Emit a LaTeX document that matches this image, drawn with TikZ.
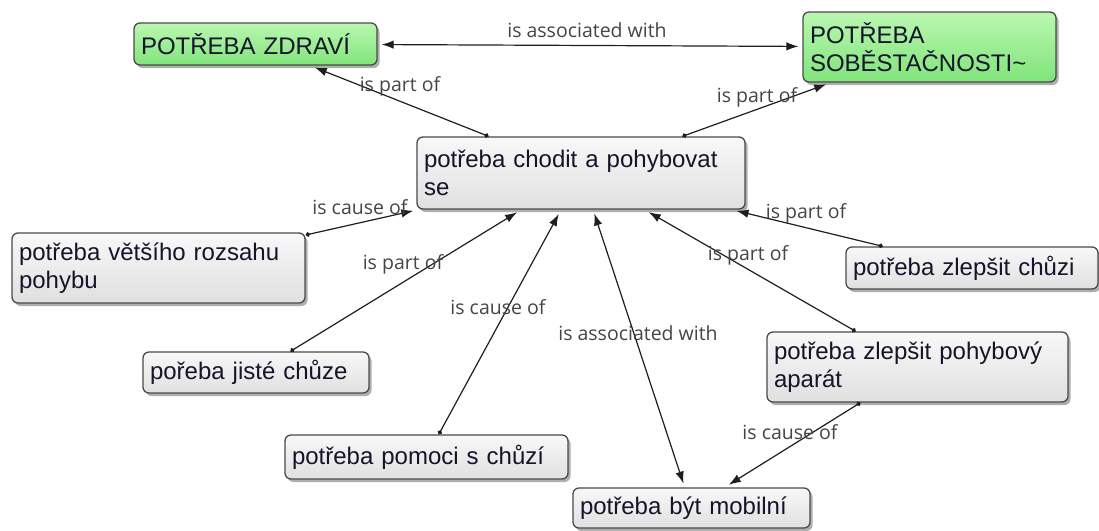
\documentclass[tikz,border=0pt]{standalone}
\usepackage{fontspec}
\setmainfont{Liberation Sans}
\newfontfamily\lblfont{Open Sans}
\usetikzlibrary{arrows.meta,shadows}

\definecolor{boxline}{HTML}{4A4A4A}
\definecolor{boxtop}{HTML}{F8F8F8}
\definecolor{boxbot}{HTML}{E0E0E0}
\definecolor{greentop}{HTML}{BAF7B1}
\definecolor{greenbot}{HTML}{80E47A}
\definecolor{nodetext}{HTML}{14142A}
\definecolor{lbltext}{HTML}{454545}
\definecolor{linecol}{HTML}{1E1E1E}

\tikzset{
  concept/.style={draw=boxline, line width=1.3pt, rounded corners=6pt,
    top color=boxtop, bottom color=boxbot, text=nodetext,
    align=left, inner xsep=7pt, inner ysep=0pt,
    font=\fontsize{24}{28}\selectfont,
    drop shadow={shadow xshift=2.5pt, shadow yshift=-3pt, opacity=0.45, fill=black!70}},
  greenconcept/.style={concept, top color=greentop, bottom color=greenbot},
  lbl/.style={font=\lblfont\fontsize{19.5}{22}\selectfont, text=lbltext, inner sep=0pt},
  rel/.style={draw=linecol, line width=1.2pt,
    {Circle[length=4.5pt]}-{Latex[length=12pt,width=8.5pt]}, shorten >=5pt},
  mutual/.style={draw=linecol, line width=1.2pt,
    {Latex[length=12pt,width=8.5pt]}-{Latex[length=12pt,width=8.5pt]},
    shorten >=4pt, shorten <=4pt},
}

\begin{document}
\begin{tikzpicture}[x=1pt, y=-1pt]
\useasboundingbox (0,0) rectangle (1099,530);

% concepts
\node[greenconcept, minimum width=243pt, minimum height=42pt, text width=229pt]
  (zdravi) at (255.5,44) {\mbox{POTŘEBA ZDRAVÍ}};
\node[greenconcept, minimum width=253pt, minimum height=70pt, text width=239pt]
  (sobest) at (929.5,47) {POTŘEBA\\\mbox{SOBĚSTAČNOSTI\textasciitilde}};
\node[concept, minimum width=328pt, minimum height=72pt, text width=314pt]
  (chodit) at (581,173) {\mbox{potřeba chodit a pohybovat}\\se};
\node[concept, minimum width=293pt, minimum height=70pt, text width=279pt]
  (rozsah) at (158.5,268) {\mbox{potřeba většího rozsahu}\\pohybu};
\node[concept, minimum width=252pt, minimum height=42pt, text width=238pt]
  (zlepchuze) at (972,268) {\mbox{potřeba zlepšit chůzi}};
\node[concept, minimum width=301pt, minimum height=70pt, text width=287pt]
  (aparat) at (917.5,367) {\mbox{potřeba zlepšit pohybový}\\aparát};
\node[concept, minimum width=226pt, minimum height=41pt, text width=212pt]
  (jista) at (256,372.5) {\mbox{pořeba jisté chůze}};
\node[concept, minimum width=283pt, minimum height=44pt, text width=269pt]
  (pomoc) at (426.5,457) {\mbox{potřeba pomoci s chůzí}};
\node[concept, minimum width=237pt, minimum height=40pt, text width=223pt]
  (mobil) at (691.5,508) {\mbox{potřeba být mobilní}};

% relations
\draw[mutual] (zdravi) -- (sobest);
\draw[rel] (chodit) -- (zdravi);
\draw[rel] (chodit) -- (sobest);
\draw[rel] (rozsah) -- (chodit);
\draw[rel] (zlepchuze) -- (chodit);
\draw[rel] (jista) -- (chodit);
\draw[rel] (pomoc) -- (chodit);
\draw[mutual] (mobil) -- (chodit);
\draw[rel] (aparat) -- (chodit);
\draw[rel] (aparat) -- (mobil);

% relation labels
\node[lbl] (l1) at (587,30) {is associated with};
\node[lbl] (l2) at (400,86) {is part of};
\node[lbl] (l3) at (757,97) {is part of};
\node[lbl] (l4) at (360,207) {is cause of};
\node[lbl] (l5) at (403,264) {is part of};
\node[lbl] (l6) at (498,307) {is cause of};
\node[lbl] (l7) at (638,333) {is associated with};
\node[lbl] (l8) at (748,255) {is part of};
\node[lbl] (l9) at (806,213) {is part of};
\node[lbl] (l10) at (790,432) {is cause of};
\end{tikzpicture}
\end{document}
